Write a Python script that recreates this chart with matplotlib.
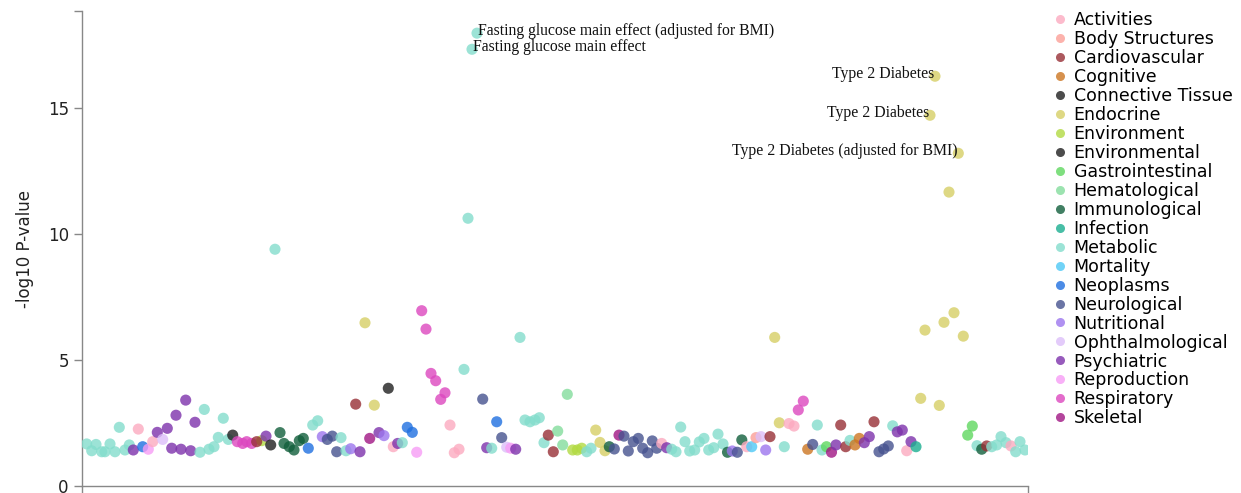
import numpy as np
import matplotlib
matplotlib.use('Agg')
import matplotlib.pyplot as plt
from matplotlib.lines import Line2D

CATEGORIES = ["Activities", "Body Structures", "Cardiovascular", "Cognitive",
              "Connective Tissue", "Endocrine", "Environment", "Environmental",
              "Gastrointestinal", "Hematological", "Immunological", "Infection",
              "Metabolic", "Mortality", "Neoplasms", "Neurological", "Nutritional",
              "Ophthalmological", "Psychiatric", "Reproduction", "Respiratory", "Skeletal"]
COLORS = ["#fcaac0", "#fc9f97", "#972f36", "#cc7622", "#1f1f1f", "#d6cf66",
          "#b2da42", "#1f1f1f", "#5fd75f", "#84dd9c", "#125f3c", "#1aae90",
          "#84ddcc", "#4ec9f6", "#1f70e0", "#46528f", "#9c76ee", "#dcbff9",
          "#7d32ab", "#f79cf5", "#dc47bf", "#a01684"]

# phenotype position along x, -log10 p, category
pos = [4.7, 9.7, 14.0, 19.7, 23.0, 28.0, 33.0, 37.3, 43.0, 47.3,
       51.3, 56.3, 60.7, 66.3, 70.7, 75.3, 80.7, 85.3, 89.7, 94.0,
       99.0, 103.7, 108.7, 113.0, 118.0, 122.3, 127.0, 132.0, 136.3, 141.3,
       146.3, 150.7, 155.3, 160.7, 164.7, 169.7, 179.7, 174.7, 184.0, 188.7,
       193.0, 198.0, 202.0, 207.3, 212.0, 217.3, 221.3, 226.3, 230.7, 235.7,
       240.3, 245.3, 250.3, 254.7, 259.0, 264.0, 268.7, 273.7, 278.0, 283.0,
       287.7, 292.3, 297.0, 302.0, 306.3, 311.3, 315.7, 320.3, 325.3, 330.3,
       334.7, 339.7, 344.0, 349.0, 353.7, 358.7, 363.0, 368.0, 372.3, 377.0,
       382.0, 386.0, 390.0, 395.0, 400.7, 404.7, 409.7, 414.7, 419.7, 424.7,
       428.7, 433.7, 438.0, 443.0, 448.0, 453.0, 457.3, 462.0, 466.3, 471.3,
       475.7, 480.7, 485.3, 490.7, 495.3, 499.7, 504.7, 509.0, 513.7, 518.0,
       523.0, 527.3, 532.3, 537.0, 542.0, 546.3, 551.3, 556.3, 560.7, 565.7,
       570.3, 574.7, 579.7, 584.7, 589.7, 594.0, 598.7, 603.0, 607.7, 612.7,
       617.3, 622.0, 626.7, 631.7, 636.0, 641.0, 645.5, 650.3, 655.3, 659.8,
       664.7, 669.7, 674.0, 679.0, 683.7, 688.0, 692.7, 697.3, 702.3, 707.0,
       712.0, 716.3, 721.3, 725.7, 730.7, 735.3, 740.0, 744.5, 749.5, 754.0,
       758.7, 763.7, 768.0, 773.0, 777.3, 782.3, 787.3, 792.0, 797.0, 801.7,
       806.3, 810.7, 815.3, 820.3, 824.7, 829.0, 834.0, 838.7, 843.0, 848.0,
       853.0, 857.3, 862.0, 867.0, 872.0, 876.3, 881.3, 885.7, 890.3, 895.0,
       899.7, 904.7, 909.7, 914.7, 919.0, 924.0, 929.0, 933.7, 938.0, 943.0]
logp = [1.67, 1.40, 1.65, 1.36, 1.36, 1.67, 1.36, 2.33, 1.43, 1.63,
        1.43, 2.26, 1.56, 1.46, 1.76, 2.13, 1.85, 2.29, 1.50, 2.81,
        1.46, 3.41, 1.40, 2.53, 1.34, 3.04, 1.46, 1.56, 1.93, 2.69,
        1.85, 2.02, 1.76, 1.69, 1.76, 1.69, 1.80, 1.76, 1.98, 1.63,
        9.40, 2.12, 1.69, 1.56, 1.43, 1.80, 1.89, 1.50, 2.42, 2.59,
        1.96, 1.85, 1.98, 1.36, 1.92, 1.40, 1.48, 3.25, 1.36, 6.48,
        1.89, 3.21, 2.12, 2.00, 3.88, 1.56, 1.69, 1.72, 2.33, 2.13,
        1.34, 6.96, 6.23, 4.47, 4.18, 3.44, 3.70, 2.42, 1.32, 1.46,
        4.63, 10.63, 17.34, 17.98, 3.45, 1.52, 1.50, 2.55, 1.92, 1.54,
        1.50, 1.46, 5.90, 2.62, 2.55, 2.62, 2.71, 1.72, 2.02, 1.36,
        2.18, 1.63, 3.64, 1.43, 1.43, 1.50, 1.36, 1.50, 2.22, 1.73,
        1.40, 1.56, 1.47, 2.02, 1.98, 1.39, 1.76, 1.89, 1.50, 1.32,
        1.79, 1.50, 1.69, 1.52, 1.46, 1.36, 2.34, 1.76, 1.39, 1.43,
        1.75, 1.89, 1.43, 1.52, 2.06, 1.67, 1.34, 1.39, 1.34, 1.83,
        1.56, 1.56, 1.92, 1.96, 1.43, 1.96, 5.90, 2.51, 1.56, 2.48,
        2.38, 3.02, 3.37, 1.46, 1.65, 2.42, 1.43, 1.56, 1.34, 1.63,
        2.42, 1.56, 1.81, 1.63, 1.89, 1.72, 1.96, 2.55, 1.36, 1.47,
        1.59, 2.39, 2.15, 2.22, 1.40, 1.76, 1.56, 3.48, 6.19, 14.72,
        16.27, 3.20, 6.50, 11.67, 6.88, 13.21, 5.95, 2.02, 2.38, 1.60,
        1.46, 1.59, 1.56, 1.63, 1.96, 1.72, 1.59, 1.36, 1.76, 1.43]
cat = ["Metabolic"] * 10 + [
    "Psychiatric", "Activities", "Neoplasms", "Reproduction", "Activities",
    "Psychiatric", "Ophthalmological", "Psychiatric", "Psychiatric", "Psychiatric",
    "Psychiatric", "Psychiatric", "Psychiatric", "Psychiatric", "Metabolic",
    "Metabolic", "Metabolic", "Metabolic", "Metabolic", "Metabolic",
    "Metabolic", "Connective Tissue", "Respiratory", "Respiratory", "Respiratory",
    "Respiratory", "Environment", "Cardiovascular", "Psychiatric", "Environmental",
    "Metabolic", "Immunological", "Immunological", "Immunological", "Immunological",
    "Immunological", "Immunological", "Neoplasms", "Metabolic", "Metabolic",
    "Nutritional", "Neurological", "Neurological", "Neurological", "Metabolic",
    "Metabolic", "Nutritional", "Cardiovascular", "Psychiatric", "Endocrine",
    "Skeletal", "Endocrine", "Psychiatric", "Nutritional", "Connective Tissue",
    "Activities", "Psychiatric", "Metabolic", "Neoplasms", "Neoplasms",
    "Reproduction", "Respiratory", "Respiratory", "Respiratory", "Respiratory",
    "Respiratory", "Respiratory", "Activities", "Activities", "Activities",
    "Metabolic", "Metabolic", "Metabolic", "Metabolic", "Neurological",
    "Psychiatric", "Metabolic", "Neoplasms", "Neurological", "Ophthalmological",
    "Reproduction", "Psychiatric", "Metabolic", "Metabolic", "Metabolic",
    "Metabolic", "Metabolic", "Metabolic", "Cardiovascular", "Cardiovascular",
    "Hematological", "Hematological", "Hematological", "Environment", "Environment",
    "Environment", "Metabolic", "Metabolic", "Endocrine", "Endocrine",
    "Endocrine", "Immunological", "Neurological", "Skeletal", "Neurological",
    "Neurological", "Neurological", "Neurological", "Neurological", "Neurological",
    "Neurological", "Neurological", "Activities", "Psychiatric", "Metabolic",
    "Metabolic", "Metabolic", "Metabolic", "Metabolic", "Metabolic",
    "Metabolic", "Metabolic", "Metabolic", "Metabolic", "Metabolic",
    "Metabolic", "Immunological", "Nutritional", "Neurological", "Immunological",
    "Activities", "Mortality", "Body Structures", "Ophthalmological", "Nutritional",
    "Cardiovascular", "Endocrine", "Endocrine", "Metabolic", "Activities",
    "Activities", "Respiratory", "Respiratory", "Cognitive", "Neurological",
    "Metabolic", "Metabolic", "Gastrointestinal", "Skeletal", "Psychiatric",
    "Cardiovascular", "Cardiovascular", "Metabolic", "Cognitive", "Cognitive",
    "Psychiatric", "Psychiatric", "Cardiovascular", "Neurological", "Neurological",
    "Neurological", "Metabolic", "Psychiatric", "Psychiatric", "Activities",
    "Psychiatric", "Infection", "Endocrine", "Endocrine", "Endocrine",
    "Endocrine", "Endocrine", "Endocrine", "Endocrine", "Endocrine",
    "Endocrine", "Endocrine", "Gastrointestinal", "Gastrointestinal", "Metabolic",
    "Immunological", "Cardiovascular", "Metabolic", "Metabolic", "Metabolic",
    "Metabolic", "Activities", "Metabolic", "Metabolic", "Metabolic"]

# the five strongest hits, strongest first
TOP_LABELS = ["Fasting glucose main effect (adjusted for BMI)",
              "Fasting glucose main effect",
              "Type 2 Diabetes", "Type 2 Diabetes",
              "Type 2 Diabetes (adjusted for BMI)"]
TOP_ALIGN = ["left", "left", "right", "right", "right"]

pos = np.array(pos)
logp = np.array(logp)
color_of = dict(zip(CATEGORIES, COLORS))

fig = plt.figure(figsize=(12.41, 4.93), dpi=100)
ax = fig.add_axes([82/1241, 7/493, 946/1241, 475/493])

ax.scatter(pos, logp, s=64, c=[color_of[c] for c in cat], alpha=0.8,
           linewidths=0, zorder=3)

order = np.argsort(-logp)
for k, (txt, ha) in enumerate(zip(TOP_LABELS, TOP_ALIGN)):
    i = order[k]
    ax.annotate(txt, (pos[i], logp[i]), xytext=(0.5 if ha == 'left' else -0.5, -1.5),
                textcoords='offset points', ha=ha, va='baseline',
                family='Liberation Serif', fontsize=11.3, color='#111111', zorder=4)

ax.set_xlim(0, 946)
ax.set_ylim(0, 18.86)
for s in ('top', 'right'):
    ax.spines[s].set_visible(False)
for s in ('left', 'bottom'):
    ax.spines[s].set_color('#888888')
    ax.spines[s].set_linewidth(1)
ax.set_xticks([0, 946])
ax.set_xticklabels([])
ax.set_yticks([0, 5, 10, 15])
ax.set_yticks([18.86], minor=True)
ax.tick_params(axis='both', which='both', length=6, color='#888888', width=1,
               labelsize=12, labelcolor='#222222')
ax.set_ylabel('-log10 P-value', fontsize=12, color='#222222', labelpad=10)

handles = [Line2D([], [], marker='o', ls='', markersize=6.5, markeredgewidth=0,
                  color=col, alpha=0.8) for col in COLORS]
fig.legend(handles, CATEGORIES, loc='upper left', bbox_to_anchor=(1051/1241, 1 - 11/493),
           frameon=False, fontsize=12.5, handlelength=1.0, handletextpad=0.3,
           labelspacing=0.056, borderpad=0, borderaxespad=0)

plt.savefig('out.png', dpi=100)
